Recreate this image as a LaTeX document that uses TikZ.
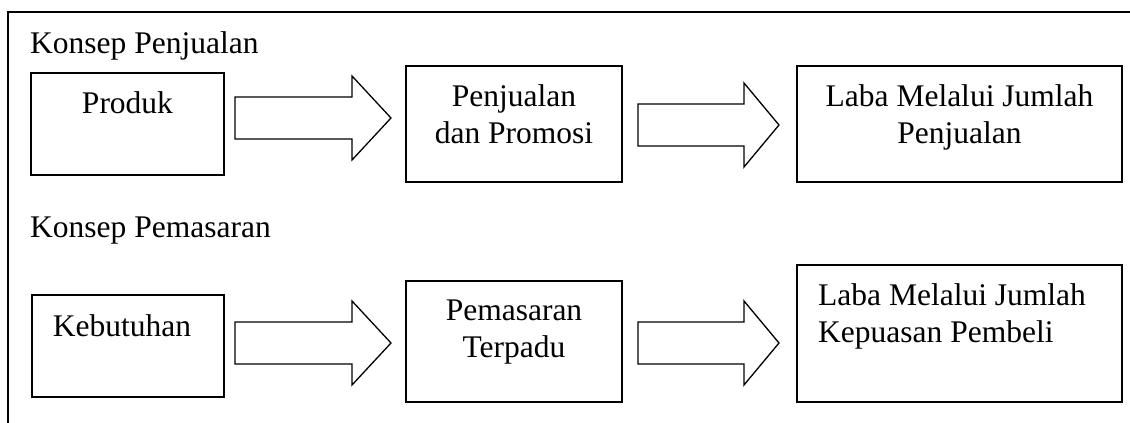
\documentclass[tikz,border=0pt]{standalone}
\usepackage{fontspec}
\setmainfont{Liberation Serif}
\usetikzlibrary{calc}

\tikzset{
  kotak/.style={draw,line width=2pt,inner sep=0pt},
  teks/.style={anchor=base,inner sep=0pt,align=center},
  panah/.style={draw,line width=1.3pt,line join=miter}
}
% panah blok: x awal, x pangkal kepala, x ujung, y tengah
\newcommand{\panahblok}[4]{%
  \draw[panah] (#1,#4-21) -- (#2,#4-21) -- (#2,#4-42) -- (#3,#4) -- (#2,#4+42) -- (#2,#4+21) -- (#1,#4+21) -- cycle;}

\begin{document}
\begin{tikzpicture}[x=1pt,y=-1pt,font=\fontsize{31.5}{37}\selectfont]
\useasboundingbox (0,0) rectangle (1130,423);
\draw[line width=2pt] (8,423) -- (8,12) -- (1130,12);

% konsep penjualan
\node[teks,anchor=base west] (judul1) at (30,53) {Konsep Penjualan};
\node[kotak,minimum width=193,minimum height=102] (produk) at (127.5,124) {};
\node[teks] (produk-t) at (127.5,113) {Produk};
\panahblok{235}{352}{391}{118}
\node[kotak,minimum width=216,minimum height=116] (jual) at (514,124) {};
\node[teks] (jual-t) at (514,143) {Penjualan\\dan Promosi};
\panahblok{638}{744}{779}{125}
\node[kotak,minimum width=325,minimum height=116] (laba1) at (959.5,124) {};
\node[teks] (laba1-t) at (959.5,143) {Laba Melalui Jumlah\\Penjualan};

% konsep pemasaran
\node[teks,anchor=base west] (judul2) at (30,237) {Konsep Pemasaran};
\node[kotak,minimum width=192,minimum height=102] (butuh) at (128,346) {};
\node[teks] (butuh-t) at (122,336) {Kebutuhan};
\panahblok{235}{352}{391}{343}
\node[kotak,minimum width=216,minimum height=121] (terpadu) at (514,341.5) {};
\node[teks] (terpadu-t) at (514,357) {Pemasaran\\Terpadu};
\panahblok{638}{744}{779}{343}
\node[kotak,minimum width=325,minimum height=137] (laba2) at (959.5,333.5) {};
\node[teks,anchor=base west,align=left] (laba2-t) at (818,342) {Laba Melalui Jumlah\\Kepuasan Pembeli};
\end{tikzpicture}
\end{document}
